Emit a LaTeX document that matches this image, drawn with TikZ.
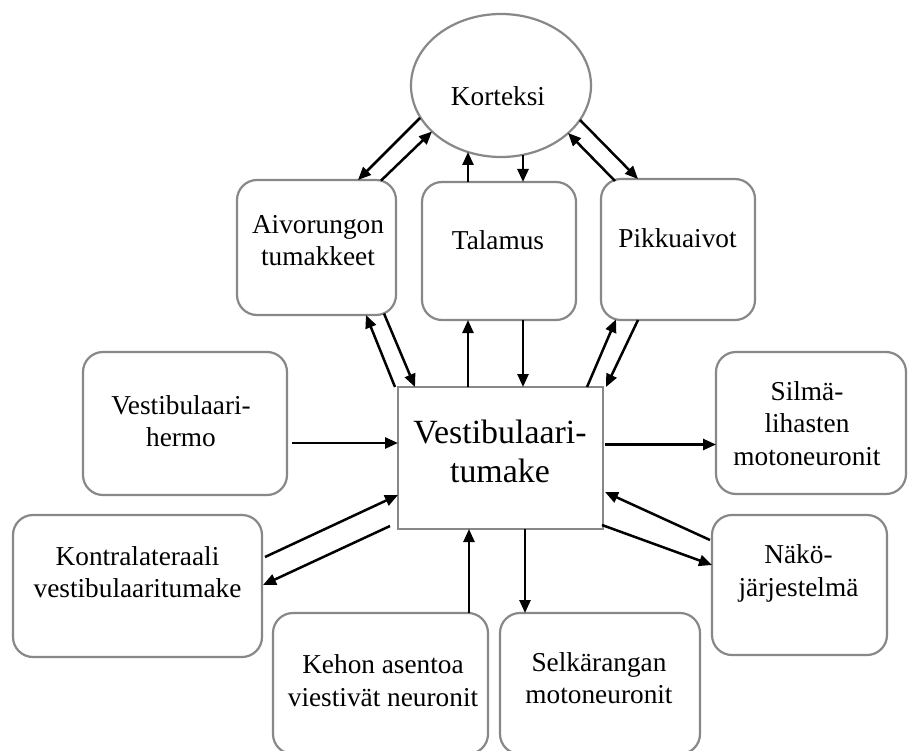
\documentclass[tikz,border=0pt]{standalone}
\usepackage{fontspec}
\setmainfont{Liberation Serif}
\usetikzlibrary{shapes.geometric,arrows.meta,calc}
\definecolor{bordergray}{RGB}{135,135,140}
\begin{document}
\begin{tikzpicture}[x=1pt,y=-1pt,
  box/.style={draw=bordergray, line width=2.2pt, rounded corners=20pt, inner sep=0pt, outer sep=0pt, fill=white},
  centbox/.style={draw=bordergray, line width=2.2pt, inner sep=0pt, outer sep=0pt, fill=white},
  ovalbox/.style={ellipse, draw=bordergray, line width=2.2pt, inner sep=0pt, outer sep=0pt, fill=white},
  lbl/.style={inner sep=0pt, outer sep=0pt, align=center, font=\fontsize{27.3}{32.5}\selectfont},
  biglbl/.style={inner sep=0pt, outer sep=0pt, align=center, font=\fontsize{33.9}{39}\selectfont},
  arr/.style={line width=2.5pt, -{Triangle[length=13pt,width=11pt]}}]
\fill[white] (0,0) rectangle (909,751);
\useasboundingbox (0,0) rectangle (909,751);

% shapes
\node[ovalbox, minimum width=180pt, minimum height=143pt] (kort) at (501,85.5) {};
\node[box, minimum width=159pt, minimum height=135pt] (aiv) at (316.5,247.5) {};
\node[box, minimum width=154pt, minimum height=138pt] (tal) at (499,251) {};
\node[box, minimum width=154pt, minimum height=141pt] (pik) at (678,249.5) {};
\node[centbox, minimum width=205pt, minimum height=142pt] (cen) at (500.5,458) {};
\node[box, minimum width=204pt, minimum height=143pt] (her) at (185,423.5) {};
\node[box, minimum width=190pt, minimum height=142pt] (sil) at (811,423) {};
\node[box, minimum width=249pt, minimum height=142pt] (kon) at (137.5,586) {};
\node[box, minimum width=175pt, minimum height=140pt] (nak) at (799.5,585) {};
\node[box, minimum width=215pt, minimum height=141pt] (keh) at (380.5,683.5) {};
\node[box, minimum width=200pt, minimum height=141pt] (sel) at (600,683.5) {};

% texts
\node[lbl, anchor=base] (kortt) at (498,106) {Korteksi};
\node[lbl] (aivt) at (318,243) {\strut Aivorungon\\\strut tumakkeet};
\node[lbl] (talt) at (498,243.4) {\strut Talamus};
\node[lbl] (pikt) at (677.5,241.4) {\strut Pikkuaivot};
\node[biglbl] (cent) at (500,454.7) {\strut Vestibulaari-\\\strut tumake};
\node[lbl] (hert) at (181,424) {\strut Vestibulaari-\\\strut hermo};
\node[lbl] (silt) at (807,426) {\strut Silmä-\\\strut lihasten\\\strut motoneuronit};
\node[lbl] (kont) at (137.5,575) {\strut Kontralateraali\\\strut vestibulaaritumake};
\node[lbl] (nakt) at (798.5,573.4) {\strut Näkö-\\\strut järjestelmä};
\node[lbl] (keht) at (383,683.4) {\strut Kehon asentoa\\\strut viestivät neuronit};
\node[lbl] (selt) at (599,681) {\strut Selkärangan\\\strut motoneuronit};

% Korteksi <-> top boxes
\draw[arr] ($(kort.center)+(-81,32.5)$) -- ($(aiv.north)+(41.5,0)$);
\draw[arr] ($(aiv.north)+(64.5,0.6)$) -- ($(kort.center)+(-69,46)$);
\draw[arr] ($(tal.north)+(-31,0)$) -- ($(kort.center)+(-33,66.5)$);
\draw[arr] ($(kort.center)+(22,69.3)$) -- ($(tal.north)+(24,0)$);
\draw[arr] ($(kort.center)+(79,34.5)$) -- ($(pik.north)+(-40,0)$);
\draw[arr] ($(pik.north)+(-63,2)$) -- ($(kort.center)+(67,47.5)$);

% top boxes <-> central
\draw[arr] ($(cen.north west)+(-3,0)$) -- ($(aiv.south)+(49.5,0)$);
\draw[arr] ($(aiv.south)+(67.5,-1.5)$) -- ($(cen.north west)+(17,0)$);
\draw[arr] ($(cen.north)+(-32.5,0)$) -- ($(tal.south)+(-31,0)$);
\draw[arr] ($(tal.south)+(24,0)$) -- ($(cen.north)+(22.5,0)$);
\draw[arr] ($(cen.north east)+(-16,0)$) -- ($(pik.south)+(-62,-0.6)$);
\draw[arr] ($(pik.south)+(-40,0)$) -- ($(cen.north east)+(3,0)$);

% side connections
\draw[arr] ($(her.east)+(5,19.5)$) -- ($(cen.west)+(0,-15)$);
\draw[arr] ($(cen.east)+(2,-13.5)$) -- ($(sil.west)+(0,21.5)$);
\draw[arr] ($(kon.east)+(3,-29)$) -- ($(cen.west)+(0,37)$);
\draw[arr] ($(cen.south west)+(-8,-3)$) -- ($(kon.east)+(1,-1)$);
\draw[arr] ($(nak.west)+(-2,-45)$) -- ($(cen.east)+(2,34)$);
\draw[arr] ($(cen.south east)+(-1,-4)$) -- ($(nak.west)+(0,-20)$);

% bottom connections
\draw[arr] ($(keh.north)+(88.5,0)$) -- ($(cen.south)+(-31.5,0)$);
\draw[arr] ($(cen.south)+(24.5,0)$) -- ($(sel.north)+(-75,0)$);
\end{tikzpicture}
\end{document}
